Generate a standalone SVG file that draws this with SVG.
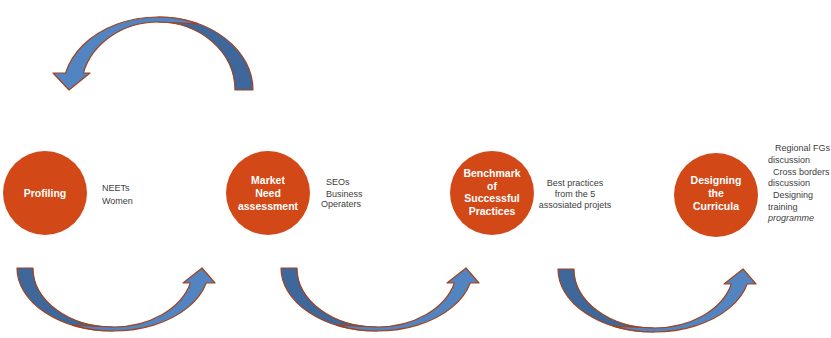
<svg xmlns="http://www.w3.org/2000/svg" width="831" height="338" viewBox="0 0 831 338">
<style>
.node circle{fill:#D34817;}
.lbl{font-family:"Liberation Sans",Arial,sans-serif;font-size:10.5px;font-weight:bold;fill:#ffffff;text-anchor:middle;}
.side{font-family:"Liberation Sans",Arial,sans-serif;font-size:9px;fill:#404040;}
.dark{fill:#3E689C;stroke:#A0431E;stroke-width:1.2;stroke-linejoin:round;}
.light{fill:#5184C0;stroke:#A0431E;stroke-width:1.2;stroke-linejoin:round;}
</style>
<defs>
<g id="upArrow">
<path class="dark" d="M17,268 A96 63 0 0 0 113,331 L113,327 A80 59 0 0 1 33,268 Z"/>
<path class="light" d="M72.4,325.1 A96 63 0 0 0 206.2,283 L215,283 L202,268 L183,283 L190.4,283 A80 59 0 0 1 113,327 Z"/>
</g>
</defs>
<g id="connectors">
<g id="arrow-top">
<path class="dark" d="M253,90 A95 73 0 0 0 158,17 L158,22 A77 68 0 0 1 235,90 Z"/>
<path class="light" d="M198.1,23.8 A95 73 0 0 0 65.6,73 L53,73 L69,90 L90,73 L83.4,73 A77 68 0 0 1 158,22 Z"/>
</g>
<use id="arrow-1" href="#upArrow"/>
<use id="arrow-2" href="#upArrow" transform="translate(264,0)"/>
<use id="arrow-3" href="#upArrow" transform="translate(541,1)"/>
</g>
<g id="node-profiling" class="node">
<circle cx="45" cy="193" r="42"/>
<text class="lbl" x="45" y="197">Profiling</text>
</g>
<g id="node-market" class="node">
<circle cx="268" cy="193" r="42"/>
<text class="lbl" x="268" y="184">Market</text>
<text class="lbl" x="268" y="197">Need</text>
<text class="lbl" x="268" y="209.5">assessment</text>
</g>
<g id="node-benchmark" class="node">
<circle cx="492" cy="193" r="42"/>
<text class="lbl" x="492" y="177">Benchmark</text>
<text class="lbl" x="492" y="189.5">of</text>
<text class="lbl" x="492" y="202">Successful</text>
<text class="lbl" x="492" y="215">Practices</text>
</g>
<g id="node-designing" class="node">
<circle cx="716" cy="195" r="42"/>
<text class="lbl" x="716" y="184">Designing</text>
<text class="lbl" x="716" y="197">the</text>
<text class="lbl" x="716" y="210">Curricula</text>
</g>
<g id="text-profiling">
<text class="side" x="102" y="190.5">NEETs</text>
<text class="side" x="102" y="203.5">Women</text>
</g>
<g id="text-market">
<text class="side" x="326" y="185">SEOs</text>
<text class="side" x="326" y="196.5">Business</text>
<text class="side" x="321" y="207">Operaters</text>
</g>
<g id="text-benchmark" text-anchor="middle">
<text class="side" x="575" y="186">Best practices</text>
<text class="side" x="575" y="196.5">from the 5</text>
<text class="side" x="575" y="207.5">assosiated projets</text>
</g>
<g id="text-designing">
<text class="side" x="775" y="151">Regional FGs</text>
<text class="side" x="768" y="162.5">discussion</text>
<text class="side" x="773" y="174.5">Cross borders</text>
<text class="side" x="768" y="186">discussion</text>
<text class="side" x="773" y="198">Designing</text>
<text class="side" x="768" y="209.5">training</text>
<text class="side" x="768" y="221" font-style="italic">programme</text>
</g>
</svg>
